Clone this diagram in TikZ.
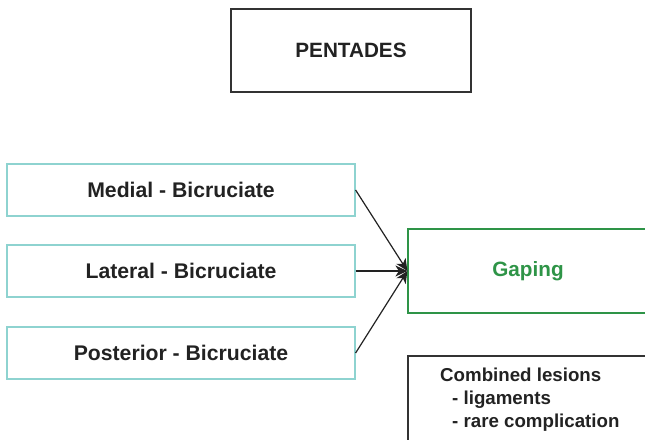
\documentclass[tikz,border=0pt]{standalone}
\usepackage{fontspec}
\setmainfont{Liberation Sans}
\usetikzlibrary{arrows.meta}
\definecolor{teal1}{HTML}{8ED3D0}
\definecolor{green1}{HTML}{2E9447}
\definecolor{txt}{HTML}{222222}
\definecolor{gray1}{HTML}{333333}
\tikzset{
  lbl/.style={font=\fontsize{21.2}{25}\selectfont\bfseries, text=txt},
  leftbox/.style={draw=teal1, line width=1.2pt, minimum width=348pt, minimum height=52pt, inner sep=0pt, lbl},
  greenbox/.style={draw=green1, line width=1.2pt, minimum width=240pt, minimum height=84pt, inner sep=0pt, lbl, font=\fontsize{20.7}{25}\selectfont\bfseries, text=green1},
  plainbox/.style={draw=gray1, line width=1.1pt, inner sep=0pt, lbl, font=\fontsize{20.7}{25}\selectfont\bfseries},
  arr/.style={-{Stealth[length=12pt,width=11pt,inset=3.5pt]}, line width=1.2pt, draw=txt}
}
\begin{document}
\begin{tikzpicture}[x=1pt,y=-1pt]
\useasboundingbox (0,0) rectangle (645,439);
\clip (0,0) rectangle (645,439);
\node[plainbox, minimum width=240pt, minimum height=83pt] (pent) at (351,50.5) {PENTADES};
\draw[gray1, line width=1.8pt] (pent.south west) -- (pent.south east);
\node[leftbox] (med) at (181,190) {Medial - Bicruciate};
\node[leftbox] (lat) at (181,271) {Lateral - Bicruciate};
\node[leftbox] (post) at (181,353) {Posterior - Bicruciate};
\node[greenbox] (gap) at (528,271) {Gaping};
\node[plainbox, minimum width=260pt, minimum height=120pt] (comb) at (538,416) {};
\node[lbl, anchor=north west, align=left, inner sep=0pt, font=\fontsize{18.7}{23}\selectfont\bfseries] (combt) at (440,368) {Combined lesions\\\hspace{12pt}- ligaments\\\hspace{12pt}- rare complication};
\draw[arr] (med.east) -- (gap.west);
\draw[arr] (lat.east) -- (gap.west);
\draw[arr] (post.east) -- (gap.west);
\end{tikzpicture}
\end{document}
